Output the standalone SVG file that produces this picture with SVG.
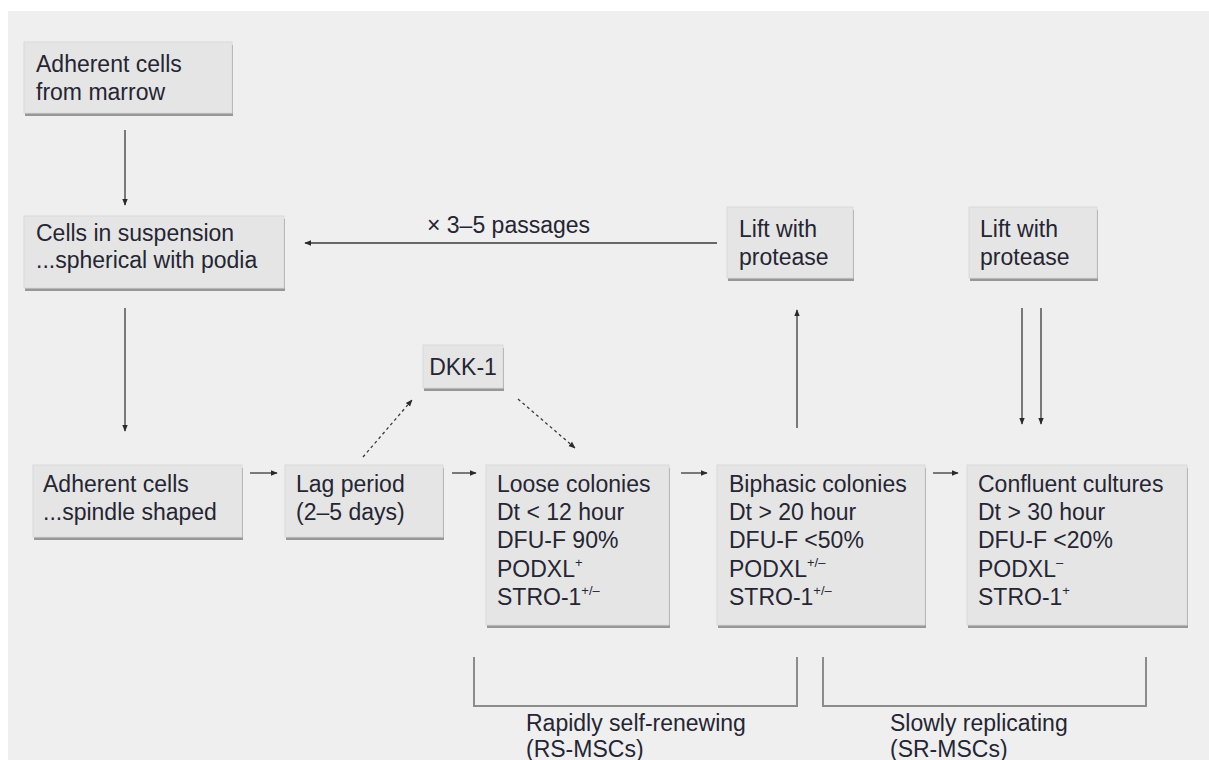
<svg xmlns="http://www.w3.org/2000/svg" width="1209" height="760" viewBox="0 0 1209 760">
<defs>
<style>
.bg{fill:#efefef}
.sh{fill:#979797}
.bx{fill:#e5e5e5;stroke:#dadada;stroke-width:1}
text{font-family:"Liberation Sans",Arial,sans-serif;font-size:23px;fill:#252533}
.sup{font-size:13px}
.ln{stroke:#3a3a3a;stroke-width:1.3;fill:none}
.dt{stroke:#3a3a3a;stroke-width:1.3;fill:none;stroke-dasharray:3 3}
.br{stroke:#8c8c8c;stroke-width:2;fill:none}
</style>
<marker id="ah" viewBox="0 0 10 10" refX="9" refY="5" markerWidth="7" markerHeight="7" markerUnits="userSpaceOnUse" orient="auto">
<path d="M0,1 L10,5 L0,9 z" fill="#2a2a2a"/>
</marker>
</defs>
<rect x="0" y="0" width="1209" height="760" fill="#ffffff"/>
<rect class="bg" x="8" y="11" width="1201" height="749"/>

<g id="connectors">
<line class="ln" x1="125" y1="130" x2="125" y2="205" marker-end="url(#ah)"/>
<line class="ln" x1="125" y1="308" x2="125" y2="431" marker-end="url(#ah)"/>
<line class="ln" x1="717" y1="243" x2="305" y2="243" marker-end="url(#ah)"/>
<text x="427" y="233">× 3–5 passages</text>
<line class="ln" x1="797" y1="428" x2="797" y2="310" marker-end="url(#ah)"/>
<line class="ln" x1="1022" y1="308" x2="1022" y2="424" marker-end="url(#ah)"/>
<line class="ln" x1="1041" y1="308" x2="1041" y2="424" marker-end="url(#ah)"/>
<line class="ln" x1="250" y1="473" x2="277" y2="473" marker-end="url(#ah)"/>
<line class="ln" x1="452" y1="473" x2="476" y2="473" marker-end="url(#ah)"/>
<line class="ln" x1="681" y1="473" x2="707" y2="473" marker-end="url(#ah)"/>
<line class="ln" x1="933" y1="473" x2="958" y2="473" marker-end="url(#ah)"/>
<line class="dt" x1="363" y1="457" x2="412" y2="400" marker-end="url(#ah)"/>
<line class="dt" x1="518" y1="399" x2="575" y2="448" marker-end="url(#ah)"/>
</g>

<g id="n1">
<rect class="sh" x="25" y="45" width="208" height="71"/>
<rect class="bx" x="24" y="42" width="208" height="71"/>
<text x="36" y="72">Adherent cells</text>
<text x="36" y="100">from marrow</text>
</g>
<g id="n2">
<rect class="sh" x="25" y="219" width="260" height="72"/>
<rect class="bx" x="24" y="216" width="260" height="72"/>
<text x="36" y="241">Cells in suspension</text>
<text x="36" y="268">...spherical with podia</text>
</g>
<g id="n3">
<rect class="sh" x="728" y="210" width="126" height="71"/>
<rect class="bx" x="727" y="207" width="126" height="71"/>
<text x="739" y="237">Lift with</text>
<text x="739" y="265">protease</text>
</g>
<g id="n4">
<rect class="sh" x="970" y="210" width="128" height="71"/>
<rect class="bx" x="969" y="207" width="128" height="71"/>
<text x="980" y="237">Lift with</text>
<text x="980" y="265">protease</text>
</g>
<g id="n5">
<rect class="sh" x="424" y="348" width="80" height="43"/>
<rect class="bx" x="423" y="345" width="80" height="43"/>
<text x="463" y="375" text-anchor="middle">DKK-1</text>
</g>
<g id="n6">
<rect class="sh" x="34" y="468" width="209" height="72"/>
<rect class="bx" x="33" y="465" width="209" height="72"/>
<text x="43" y="492">Adherent cells</text>
<text x="43" y="520">...spindle shaped</text>
</g>
<g id="n7">
<rect class="sh" x="286" y="468" width="158" height="72"/>
<rect class="bx" x="285" y="465" width="158" height="72"/>
<text x="296" y="492">Lag period</text>
<text x="296" y="520">(2–5 days)</text>
</g>
<g id="n8">
<rect class="sh" x="487" y="468" width="183" height="160"/>
<rect class="bx" x="486" y="465" width="183" height="160"/>
<text x="497" y="492">Loose colonies</text>
<text x="497" y="520">Dt &lt; 12 hour</text>
<text x="497" y="548">DFU-F 90%</text>
<text x="497" y="577">PODXL<tspan class="sup" dy="-10">+</tspan></text>
<text x="497" y="605">STRO-1<tspan class="sup" dy="-10">+/–</tspan></text>
</g>
<g id="n9">
<rect class="sh" x="718" y="468" width="208" height="160"/>
<rect class="bx" x="717" y="465" width="208" height="160"/>
<text x="729" y="492">Biphasic colonies</text>
<text x="729" y="520">Dt &gt; 20 hour</text>
<text x="729" y="548">DFU-F &lt;50%</text>
<text x="729" y="577">PODXL<tspan class="sup" dy="-10">+/–</tspan></text>
<text x="729" y="605">STRO-1<tspan class="sup" dy="-10">+/–</tspan></text>
</g>
<g id="n10">
<rect class="sh" x="968" y="468" width="220" height="160"/>
<rect class="bx" x="967" y="465" width="220" height="160"/>
<text x="978" y="492">Confluent cultures</text>
<text x="978" y="520">Dt &gt; 30 hour</text>
<text x="978" y="548">DFU-F &lt;20%</text>
<text x="978" y="577">PODXL<tspan class="sup" dy="-10">–</tspan></text>
<text x="978" y="605">STRO-1<tspan class="sup" dy="-10">+</tspan></text>
</g>

<g id="bracket-rs">
<path class="br" d="M474,657 V706 H797 V657"/>
<text x="526" y="731">Rapidly self-renewing</text>
<text x="526" y="757">(RS-MSCs)</text>
</g>
<g id="bracket-sr">
<path class="br" d="M823,657 V706 H1146 V657"/>
<text x="890" y="731">Slowly replicating</text>
<text x="890" y="757">(SR-MSCs)</text>
</g>
</svg>
